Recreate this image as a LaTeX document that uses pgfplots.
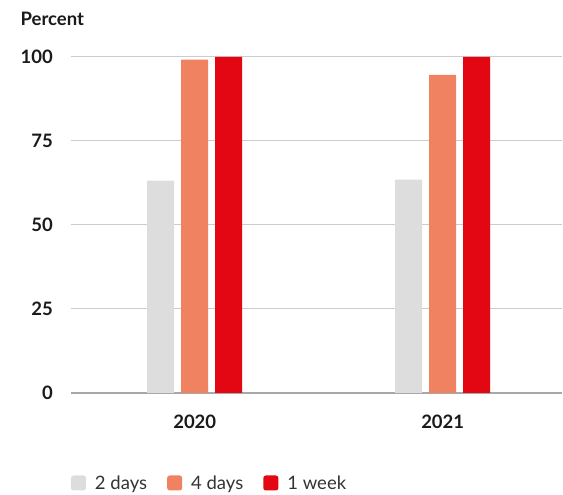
\documentclass[border=0pt]{standalone}
\usepackage{fontspec}
\setmainfont{Lato}
\usepackage{pgfplots}
\pgfplotsset{compat=1.18}
\definecolor{cTwo}{HTML}{DDDDDD}
\definecolor{cFour}{HTML}{F08262}
\definecolor{cWeek}{HTML}{E30613}
\definecolor{gridc}{HTML}{CCCCCC}
\definecolor{basec}{HTML}{A8A8A8}
\definecolor{txt}{HTML}{1A1A1A}
\definecolor{legtxt}{HTML}{333333}
\begin{document}
\begin{tikzpicture}
\path[use as bounding box] (-71pt,-102pt) rectangle (492pt,393pt);
\begin{axis}[
  at={(0pt,0pt)}, anchor=south west,
  scale only axis, width=491pt, height=336pt,
  clip mode=individual,
  ybar=7pt, bar width=27pt,
  xmin=-0.499, xmax=1.481, ymin=0, ymax=100,
  enlargelimits=false,
  xtick={0,1}, xticklabels={2020,2021},
  ytick={0,25,50,75,100},
  major tick length=0pt,
  axis y line*=left,
  y axis line style={draw=none},
  axis x line*=bottom,
  x axis line style={draw=basec, line width=1.3pt, -},
  ymajorgrids, grid style={draw=gridc, line width=1pt},
  /pgf/number format/assume math mode=true,
  tick label style={font=\fontsize{18.5}{22}\selectfont\bfseries, text=txt, inner sep=0pt},
  yticklabel style={anchor=east, xshift=-18pt},
  xticklabel style={anchor=north, yshift=-22pt},
  legend columns=3,
  legend style={at={(0,0)}, anchor=west, yshift=-90pt, draw=none, fill=none,
    inner sep=0pt, outer sep=0pt,
    font=\fontsize{18.5}{22}\selectfont, text=legtxt,
    nodes={inner sep=0pt, anchor=west},
    /tikz/every odd column/.style={column sep=9pt},
    /tikz/every even column/.style={column sep=20pt}},
  legend image code/.code={\fill[#1, rounded corners=2.5pt] (0pt,-7.5pt) rectangle (15pt,7.5pt);},
]
\addplot[fill=cTwo, draw=none] coordinates {(0,63.2) (1,63.5)};
\addplot[fill=cFour, draw=none] coordinates {(0,99.2) (1,94.7)};
\addplot[fill=cWeek, draw=none] coordinates {(0,100) (1,100)};
\legend{2 days, 4 days, 1 week}
\node[anchor=base west, inner sep=0pt, text=txt, font=\fontsize{18.5}{22}\selectfont\bfseries]
  at ([xshift=-50.5pt, yshift=31pt]rel axis cs:0,1) {Percent};
\end{axis}
\end{tikzpicture}
\end{document}
